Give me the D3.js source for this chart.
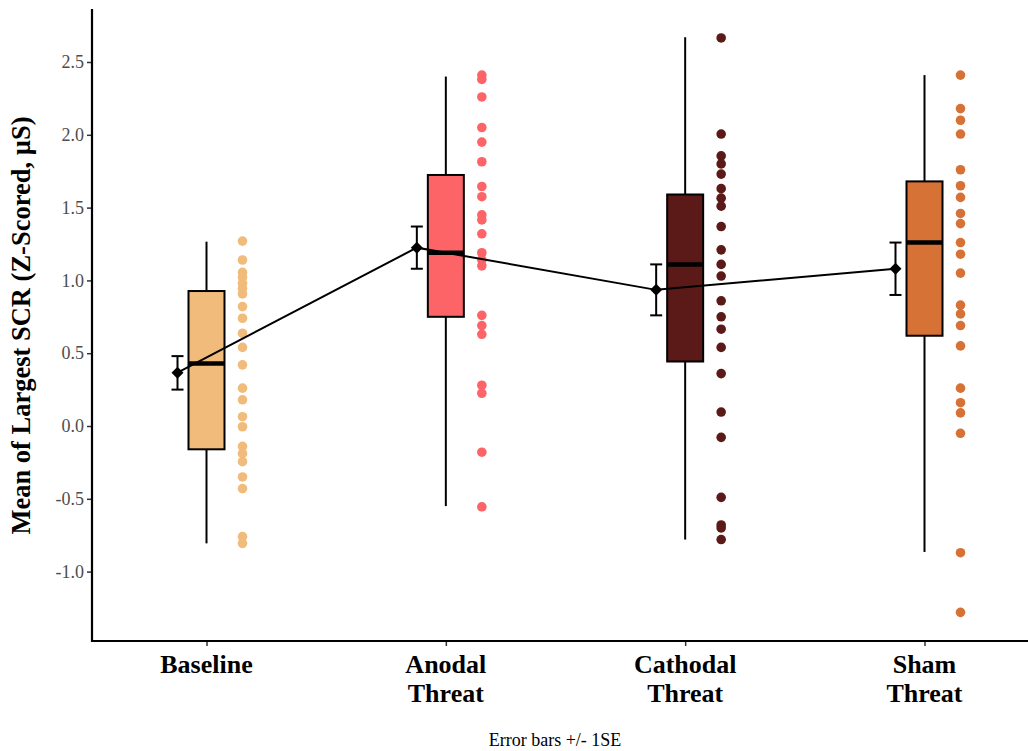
<!DOCTYPE html>
<html><head><meta charset="utf-8">
<script src="https://cdn.jsdelivr.net/npm/d3@7"></script>
<style>body{margin:0;background:#fff}svg{display:block}</style>
</head><body>
<svg id="c" width="1028" height="751"></svg>
<script>
const categories = ["Baseline", "Anodal Threat", "Cathodal Threat", "Sham Threat"];
const categoryLines = [["Baseline"], ["Anodal", "Threat"], ["Cathodal", "Threat"], ["Sham", "Threat"]];
const colors = ["#F1BB7B", "#FD6467", "#5B1A18", "#D67236"];
const boxQ1 = [-0.16, 0.75, 0.443, 0.62];
const boxMedian = [0.43, 1.19, 1.11, 1.26];
const boxQ3 = [0.927, 1.724, 1.59, 1.68];
const whiskerLow = [-0.806, -0.55, -0.78, -0.865];
const whiskerHigh = [1.266, 2.40, 2.67, 2.41];
const means = [0.366, 1.225, 0.935, 1.08];
const seLow = [0.25, 1.08, 0.76, 0.90];
const seHigh = [0.48, 1.37, 1.11, 1.26];
const baselinePoints = [1.27,1.14,1.055,1.02,0.98,0.945,0.907,0.82,0.74,0.637,0.54,0.42,0.26,0.18,0.064,-0.005,-0.14,-0.19,-0.245,-0.35,-0.43,-0.76,-0.806];
const anodalPoints = [2.41,2.38,2.26,2.05,1.95,1.815,1.645,1.575,1.45,1.415,1.32,1.19,1.14,1.10,0.76,0.69,0.63,0.28,0.225,-0.18,-0.555];
const cathodalPoints = [2.665,2.005,1.855,1.80,1.73,1.63,1.565,1.51,1.37,1.21,1.11,1.03,0.86,0.75,0.665,0.54,0.36,0.096,-0.078,-0.49,-0.68,-0.70,-0.78];
const shamPoints = [2.41,2.18,2.10,2.005,1.76,1.65,1.57,1.46,1.39,1.26,1.18,1.05,0.83,0.77,0.69,0.55,0.26,0.16,0.09,-0.05,-0.87,-1.28];
const yTicks = [-1.0, -0.5, 0.0, 0.5, 1.0, 1.5, 2.0, 2.5];
const yTitle = "Mean of Largest SCR (Z-Scored, \u00B5S)";
const caption = "Error bars +/- 1SE";

const points = [baselinePoints, anodalPoints, cathodalPoints, shamPoints];
const svg = d3.select("#c");
const pL = 92, pR = 1028, pT = 9, pB = 641;
const x = d3.scalePoint().domain(categories).range([206.5, 924.5]);
const y = d3.scaleLinear().domain([-1.4766, 2.864]).range([pB, pT]);
const boxW = 36, dotOff = 36, meanOff = -29;
const serif = "'Liberation Serif','Times New Roman',serif";

// y axis
const ya = svg.append("g").attr("transform", `translate(${pL},0)`)
  .call(d3.axisLeft(y).tickValues(yTicks).tickSize(5).tickSizeOuter(0));
ya.select(".domain").remove();
ya.selectAll(".tick line").attr("stroke", "#333").attr("stroke-width", 1.5);
ya.selectAll(".tick text").attr("font-family", serif).attr("font-size", 18).attr("fill", "#4D4D4D").attr("x", -8)
  .text(d => d3.format(".1f")(d).replace("\u2212", "-"));

// x axis
const xa = svg.append("g").attr("transform", `translate(0,${pB})`)
  .call(d3.axisBottom(x).tickSize(5).tickFormat(""));
xa.select(".domain").remove();
xa.selectAll(".tick line").attr("stroke", "#333").attr("stroke-width", 1.5);
categories.forEach((c, i) => {
  const t = svg.append("text").attr("x", x(c)).attr("y", pB + 32)
    .attr("text-anchor", "middle").attr("font-family", serif).attr("font-weight", "bold")
    .attr("font-size", 26).attr("fill", "#000");
  categoryLines[i].forEach((l, j) => t.append("tspan").attr("x", x(c)).attr("dy", j === 0 ? 0 : 29).text(l));
});

// axis lines
svg.append("line").attr("x1", pL).attr("x2", pL).attr("y1", pT).attr("y2", pB + 1).attr("stroke", "#000").attr("stroke-width", 2.2);
svg.append("line").attr("x1", pL - 1).attr("x2", pR).attr("y1", pB).attr("y2", pB).attr("stroke", "#000").attr("stroke-width", 2.2);

// boxplots
categories.forEach((c, i) => {
  const cx = x(c);
  const g = svg.append("g");
  g.append("line").attr("x1", cx).attr("x2", cx).attr("y1", y(whiskerHigh[i])).attr("y2", y(boxQ3[i])).attr("stroke", "#000").attr("stroke-width", 2);
  g.append("line").attr("x1", cx).attr("x2", cx).attr("y1", y(boxQ1[i])).attr("y2", y(whiskerLow[i])).attr("stroke", "#000").attr("stroke-width", 2);
  g.append("rect").attr("x", cx - boxW / 2).attr("width", boxW)
    .attr("y", y(boxQ3[i])).attr("height", y(boxQ1[i]) - y(boxQ3[i]))
    .attr("fill", colors[i]).attr("stroke", "#000").attr("stroke-width", 2);
  g.append("line").attr("x1", cx - boxW / 2).attr("x2", cx + boxW / 2).attr("y1", y(boxMedian[i])).attr("y2", y(boxMedian[i])).attr("stroke", "#000").attr("stroke-width", 4.5);
  g.selectAll("circle").data(points[i]).join("circle")
    .attr("cx", cx + dotOff).attr("cy", d => y(d)).attr("r", 4.8).attr("fill", colors[i]);
});

// mean line, error bars, diamonds
const line = d3.line().x((d, i) => x(categories[i]) + meanOff).y(d => y(d));
svg.append("path").datum(means).attr("d", line).attr("fill", "none").attr("stroke", "#000").attr("stroke-width", 2);
categories.forEach((c, i) => {
  const mx = x(c) + meanOff;
  svg.append("line").attr("x1", mx).attr("x2", mx).attr("y1", y(seLow[i])).attr("y2", y(seHigh[i])).attr("stroke", "#000").attr("stroke-width", 2);
  [seLow[i], seHigh[i]].forEach(v => svg.append("line").attr("x1", mx - 6).attr("x2", mx + 6).attr("y1", y(v)).attr("y2", y(v)).attr("stroke", "#000").attr("stroke-width", 2));
  const my = y(means[i]);
  svg.append("path").attr("d", `M${mx - 6},${my}L${mx},${my - 6}L${mx + 6},${my}L${mx},${my + 6}Z`).attr("fill", "#000");
});

// titles
svg.append("text").attr("transform", `translate(30,325.5) rotate(-90)`)
  .attr("text-anchor", "middle").attr("font-family", serif).attr("font-weight", "bold").attr("font-size", 26.5).attr("fill", "#000").text(yTitle);
svg.append("text").attr("x", 555).attr("y", 746).attr("text-anchor", "middle").attr("font-family", serif).attr("font-size", 18).attr("fill", "#000").text(caption);
</script>
</body></html>
